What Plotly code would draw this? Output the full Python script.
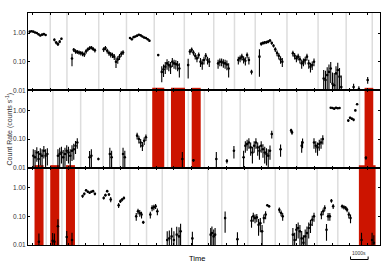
import plotly.graph_objects as go
from plotly.subplots import make_subplots

# ---------------- data (time in s, rate in counts/s) ----------------
t1 = [300, 400, 500, 600, 700, 800, 900, 1000, 1100, 1200,
      1700, 1800, 1900, 2000, 2100,
      2700, 2800, 2900, 3000, 3100, 3200, 3300, 3400, 3500, 3600, 3700, 3800, 3900, 4000,
      4500, 4600, 4700, 4800, 4900, 5000, 5100, 5200, 5300, 5400, 5500, 5600,
      6000, 6100, 6200, 6300, 6400, 6500, 6600, 6700, 6800, 6900, 7000, 7100,
      7600,
      7800, 7900, 8000, 8100, 8200, 8300, 8400, 8500, 8600, 8700, 8800,
      9300, 9400, 9500, 9600, 9700, 9800, 9900, 10000, 10100, 10200, 10300, 10400, 10500,
      11000, 11100, 11200, 11300, 11400, 11500, 11600,
      12150, 12250, 12350, 12450, 12550, 12650, 12750, 12900,
      13350, 13450, 13550, 13650, 13750, 13850, 13950, 14050, 14150, 14250, 14350, 14450, 14550, 14650,
      15250, 15350, 15450, 15550, 15650, 15750, 15850, 15950, 16050, 16150, 16250, 16350, 16450,
      17000, 17100, 17200, 17300, 17400, 17500, 17600, 17700, 17800, 17900, 18000,
      18700, 19000, 19500]
r1 = [1.12, 1.15, 1.12, 1.05, 1.0, 0.9, 0.82, 0.88, 0.92, 0.86,
      0.58, 0.47, 0.41, 0.50, 0.63,
      0.13, 0.26, 0.23, 0.22, 0.21, 0.20, 0.19, 0.18, 0.23, 0.27, 0.30, 0.31, 0.28, 0.25,
      0.27, 0.30, 0.24, 0.20, 0.18, 0.17, 0.15, 0.10, 0.12, 0.15, 0.19, 0.21,
      0.67, 0.61, 0.72, 0.76, 0.81, 0.87, 0.83, 0.76, 0.70, 0.67, 0.61, 0.54,
      0.17,
      0.044, 0.054, 0.067, 0.087, 0.076, 0.067, 0.10, 0.087, 0.083, 0.076, 0.058,
      0.076, 0.225, 0.26, 0.208, 0.16, 0.131, 0.17, 0.10, 0.087, 0.115, 0.16, 0.115, 0.10,
      0.087, 0.10, 0.10, 0.092, 0.087, 0.080, 0.058,
      0.115, 0.131, 0.15, 0.121, 0.108, 0.17, 0.115, 0.044,
      0.15, 0.42, 0.45, 0.47, 0.48, 0.50, 0.55, 0.45, 0.36, 0.27, 0.20, 0.16, 0.12, 0.10,
      0.197, 0.16, 0.131, 0.15, 0.121, 0.087, 0.10, 0.115, 0.15, 0.087, 0.067, 0.076, 0.10,
      0.026, 0.023, 0.034, 0.044, 0.058, 0.017, 0.015, 0.039, 0.051, 0.030, 0.013,
      0.013, 0.011, 0.023]
e1 = ([0.05] * 10 + [0.06] * 5 +
      [0.06, 0.04, 0.04, 0.035, 0.035, 0.035, 0.035, 0.035, 0.04, 0.04, 0.045, 0.045, 0.04, 0.04] +
      [0.05, 0.05, 0.045, 0.04, 0.04, 0.035, 0.035, 0.04, 0.035, 0.035, 0.04, 0.04] +
      [0.05] * 12 + [0.01] +
      [0.025, 0.025, 0.03, 0.035, 0.03, 0.03, 0.035, 0.03, 0.03, 0.03, 0.03] +
      [0.05, 0.05, 0.05, 0.045, 0.04, 0.035, 0.04, 0.035, 0.035, 0.035, 0.04, 0.035, 0.035] +
      [0.03] * 7 +
      [0.035, 0.035, 0.04, 0.035, 0.035, 0.04, 0.035, 0.008] +
      [0.12, 0.06, 0.06, 0.06, 0.06, 0.06, 0.06, 0.06, 0.05, 0.05, 0.045, 0.04, 0.035, 0.035] +
      [0.045, 0.04, 0.035, 0.04, 0.035, 0.03, 0.03, 0.035, 0.04, 0.03, 0.025, 0.025, 0.03] +
      [0.025, 0.025, 0.03, 0.035, 0.04, 0.025, 0.025, 0.03, 0.04, 0.03, 0.02] +
      [0.004, 0.003, 0.006])

t2 = [20500, 20600, 20700, 20800, 20900, 21000, 21100, 21200, 21300,
      21900, 22000, 22100, 22200, 22300, 22400, 22500, 22600, 22700, 22800, 22900, 23000,
      23700, 23800, 24200, 24850, 24950, 25600, 25700,
      26400, 26500, 26600, 26700, 26800, 26900,
      28970, 29600,
      30900, 31500, 31900, 32450,
      32550, 32650, 32750, 32850, 32950, 33050, 33150, 33250, 33350, 33450, 33550, 33650, 33750, 33850, 33950, 34050,
      34550, 35150, 35200, 35750, 35800,
      36450, 36550, 36650, 36750, 36850, 36950,
      37400, 37500, 37600, 37700, 37800, 37900,
      38400, 38500, 38600, 38700, 38800, 38900,
      39400]
r2 = [0.026, 0.023, 0.034, 0.020, 0.030, 0.026, 0.039, 0.026, 0.030,
      0.026, 0.030, 0.034, 0.023, 0.030, 0.039, 0.034, 0.026, 0.039, 0.044, 0.058, 0.076,
      0.023, 0.026, 0.020, 0.030, 0.023, 0.030, 0.023,
      0.131, 0.10, 0.076, 0.058, 0.087, 0.115,
      0.020, 0.018,
      0.020, 0.017, 0.039, 0.023,
      0.058, 0.067, 0.076, 0.051, 0.034, 0.058, 0.076, 0.051, 0.039, 0.058, 0.044, 0.034, 0.030, 0.026, 0.039, 0.15,
      0.044, 0.20, 0.17, 0.058, 0.076,
      0.076, 0.058, 0.051, 0.067, 0.076, 0.10,
      1.24, 1.21, 1.15, 1.24, 1.18, 1.21,
      0.44, 0.55, 0.51, 0.47, 1.0, 1.63,
      0.022]
e2 = ([0.018] * 9 +
      [0.018, 0.02, 0.02, 0.018, 0.02, 0.022, 0.02, 0.018, 0.022, 0.025, 0.028, 0.03] +
      [0.015, 0.018, 0.002, 0.02, 0.016, 0.02, 0.016] +
      [0.035, 0.03, 0.025, 0.02, 0.025, 0.03] +
      [0.015, 0.002] +
      [0.015, 0.003, 0.018, 0.016] +
      [0.025, 0.028, 0.03, 0.025, 0.02, 0.025, 0.03, 0.025, 0.02, 0.025, 0.022, 0.02, 0.018, 0.018, 0.02, 0.045] +
      [0.02, 0.03, 0.03, 0.025, 0.028] +
      [0.03, 0.025, 0.025, 0.028, 0.03, 0.035] +
      [0.07] * 6 +
      [0.05, 0.05, 0.05, 0.05, 0.06, 0.08] +
      [0.003])

t3 = [40820, 41600, 41700, 41900, 42400, 42700,
      43300, 43400, 43500, 43600, 43700, 43800, 43900, 44000,
      44500, 44600, 44700, 44800, 44900,
      45350, 45450, 45550, 45650,
      46350, 46450, 46550, 46650, 46750,
      47150, 47250, 47350, 47450, 47550,
      48110, 48230, 48360, 48490, 48650, 48780, 48870,
      49540,
      50580, 50650, 50750, 50830,
      51400, 52100,
      52900, 53000, 53100, 53200, 53300, 53400, 53500, 53600, 53700, 53800, 53900,
      54480, 54580, 54670,
      55250, 55350, 55450, 55550, 55650, 55750, 55850, 55950, 56050, 56150, 56250, 56350, 56450,
      56870, 56970, 57060, 57160, 57250, 57350, 57440, 57540,
      58050, 58150, 58250, 58330, 58430, 58525,
      59150, 59750, 59850]
r3 = [0.013, 0.014, 0.013, 0.045, 0.019, 0.015,
      0.51, 0.61, 0.81, 0.72, 0.67, 0.72, 0.76, 0.61,
      0.44, 0.55, 0.76, 0.58, 0.39,
      0.244, 0.34, 0.39, 0.44,
      0.10, 0.15, 0.131, 0.115, 0.062,
      0.115, 0.197, 0.208, 0.225, 0.15,
      0.015, 0.017, 0.020, 0.015, 0.023, 0.020, 0.030,
      0.017,
      0.023, 0.026, 0.020, 0.023,
      0.087, 0.016,
      0.07, 0.10, 0.087, 0.092, 0.051, 0.058, 0.030, 0.087, 0.115, 0.244, 0.225,
      0.17, 0.131, 0.10,
      0.023, 0.015, 0.034, 0.039, 0.030, 0.017, 0.012, 0.020, 0.026, 0.039, 0.051, 0.076, 0.10,
      0.115, 0.15, 0.197, 0.034, 0.10, 0.10, 0.35, 0.225,
      0.225, 0.208, 0.197, 0.17, 0.115, 0.087,
      0.015, 0.015, 0.012]
e3 = ([0.012, 0.012, 0.012, 0.035, 0.012, 0.012] +
      [0.06] * 8 +
      [0.05, 0.06, 0.06, 0.06, 0.08] +
      [0.05] * 4 +
      [0.03, 0.035, 0.035, 0.03, 0.008] +
      [0.03, 0.045, 0.045, 0.045, 0.04] +
      [0.015, 0.015, 0.02, 0.015, 0.02, 0.022, 0.025] +
      [0.012] +
      [0.016, 0.018, 0.015, 0.016] +
      [0.06, 0.012] +
      [0.03, 0.035, 0.03, 0.03, 0.03, 0.03, 0.02, 0.03, 0.035, 0.02, 0.02] +
      [0.035, 0.03, 0.03] +
      [0.016, 0.012, 0.02, 0.022, 0.02, 0.014, 0.01, 0.015, 0.018, 0.022, 0.025, 0.03, 0.035] +
      [0.035, 0.04, 0.045, 0.02, 0.03, 0.03, 0.05, 0.045] +
      [0.035, 0.035, 0.035, 0.03, 0.03, 0.03] +
      [0.012, 0.012, 0.01])

# observation gaps (grey lines) and shaded (red) intervals, in s
gaps1 = [1463, 2413, 4218, 5795, 7372, 9082, 10754, 11932, 13110, 14915, 16682, 18278, 19760]
gaps2 = [21615, 23192, 24465, 25415, 25985, 26935, 28132, 29310, 30222, 31210, 32255,
         34155, 34915, 35485, 36055, 37157, 38145, 39038]
gaps3 = [41235, 42128, 43078, 44218, 45092, 45985, 46935, 47828, 49310, 50412, 51210,
         52692, 54250, 54972, 56625, 57803]
red2 = [(27258, 27942), (28322, 29120), (29500, 30013), (39323, 39817)]
red3 = [(40570, 41083), (41463, 41976), (42356, 42869), (59000, 59950)]

panel_span = 20000
panel_start = [200, 20200, 40200]
scale_bar_t0 = 58525
scale_bar_len = 1000

# ---------------- figure ----------------
fig = make_subplots(rows=3, cols=1, vertical_spacing=0)

for i, (t, r, e) in enumerate([(t1, r1, e1), (t2, r2, e2), (t3, r3, e3)], start=1):
    em = [min(ee, rr * 0.97) for ee, rr in zip(e, r)]
    fig.add_trace(go.Scatter(
        x=t, y=r, mode="markers",
        marker=dict(color="black", size=2.6),
        error_y=dict(type="data", array=e, arrayminus=em, symmetric=False,
                     color="black", thickness=1.1, width=0),
        showlegend=False, hoverinfo="skip"), row=i, col=1)

shapes = []
for i, gaps in enumerate([gaps1, gaps2, gaps3], start=1):
    xr = "x" if i == 1 else f"x{i}"
    yr = "y domain" if i == 1 else f"y{i} domain"
    for g in gaps:
        shapes.append(dict(type="line", xref=xr, yref=yr, x0=g, x1=g, y0=0, y1=1,
                           line=dict(color="#dddddd", width=1.5), layer="below"))

H = 232.0
doms = {2: (1 / 3, 2 / 3), 3: (0, 1 / 3)}
for i, reds in [(2, red2), (3, red3)]:
    lo, hi = doms[i]
    for a, b in reds:
        shapes.append(dict(type="rect", xref=f"x{i}", yref="paper", x0=a, x1=b,
                           y0=lo, y1=hi + 2.5 / H,
                           fillcolor="#cc1400", line=dict(width=0), layer="below"))

# scale bar
yb = -14.5 / H
shapes.append(dict(type="line", xref="x3", yref="paper", x0=scale_bar_t0,
                   x1=scale_bar_t0 + scale_bar_len, y0=yb, y1=yb,
                   line=dict(color="black", width=1)))
for xx in (scale_bar_t0, scale_bar_t0 + scale_bar_len):
    shapes.append(dict(type="line", xref="x3", yref="paper", x0=xx, x1=xx,
                       y0=yb, y1=yb + 3 / H, line=dict(color="black", width=1)))

fig.update_layout(shapes=shapes)

for i in range(1, 4):
    s = panel_start[i - 1]
    fig.update_xaxes(row=i, col=1, range=[s, s + panel_span], showticklabels=False,
                     ticks="inside", ticklen=2, tickwidth=1, tickcolor="black",
                     tick0=475, dtick=1000, showgrid=False, zeroline=False,
                     showline=True, linecolor="black", linewidth=1, mirror="ticks",
                     automargin=False)
    fig.update_yaxes(row=i, col=1, type="log", range=[-2, 0.7],
                     tickvals=[0.01, 0.1, 1], ticktext=["0.01", "0.10", "1.00"],
                     ticks="inside", ticklen=2, tickwidth=1, tickcolor="black",
                     tickfont=dict(size=6.5, color="#333333"),
                     showgrid=False, zeroline=False, automargin=False,
                     showline=True, linecolor="black", linewidth=1, mirror="ticks")

fig.update_layout(
    width=382, height=273,
    margin=dict(l=28, r=2, t=13, b=28),
    paper_bgcolor="white", plot_bgcolor="rgba(0,0,0,0)",
    font=dict(family="Liberation Sans, Arial, sans-serif", color="#333333"),
    annotations=[
        dict(text="Count Rate (counts s<sup>-1</sup>)", xref="paper", yref="paper",
             x=-18.5 / 351, y=0.5, textangle=-90, showarrow=False,
             font=dict(size=7, color="#333333"), xanchor="center", yanchor="middle"),
        dict(text="Time", xref="paper", yref="paper", x=0.48, y=-13 / H,
             showarrow=False, font=dict(size=7.5, color="#000000"),
             xanchor="center", yanchor="middle"),
        dict(text=f"{scale_bar_len}s", xref="x3", yref="paper",
             x=scale_bar_t0 + scale_bar_len / 2, y=yb + 2 / H, showarrow=False,
             font=dict(size=5, color="#333333"), xanchor="center", yanchor="bottom"),
    ],
)

fig.write_html("out.html", config={"displayModeBar": False, "staticPlot": True},
               post_script="document.body.style.margin='0';document.body.style.overflow='hidden';")
